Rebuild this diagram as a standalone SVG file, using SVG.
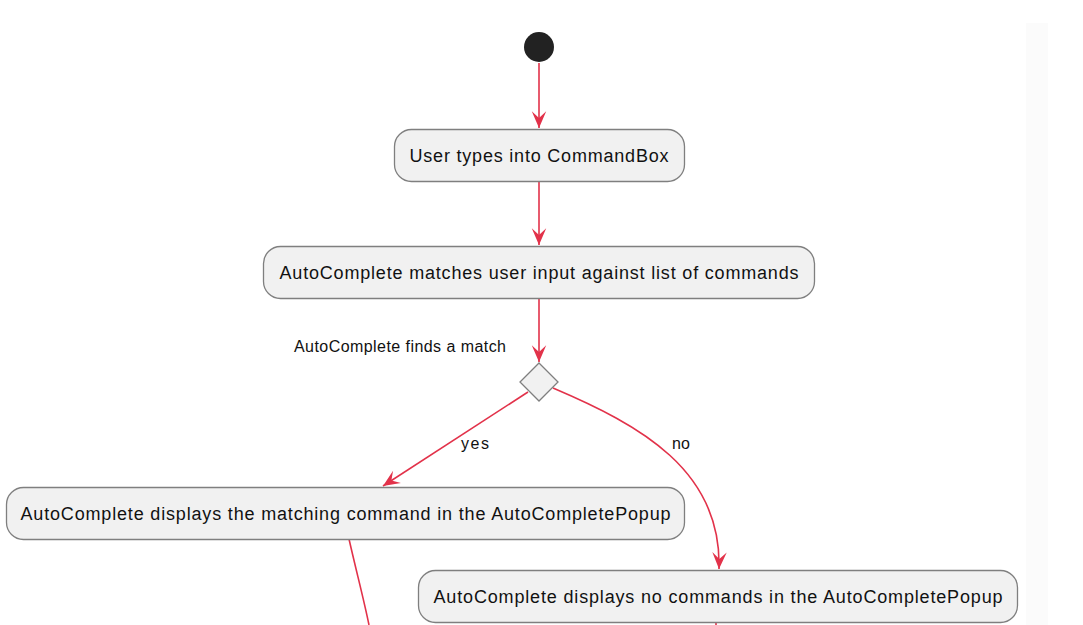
<svg xmlns="http://www.w3.org/2000/svg" width="1083" height="625" viewBox="0 0 1083 625">
  <style>
    .act { fill: #F1F1F1; stroke: #7F7F7F; stroke-width: 1.3; }
    .txt { font-family: "Liberation Sans", Arial, sans-serif; font-size: 18px; fill: #111; }
    .lbl { font-family: "Liberation Sans", Arial, sans-serif; font-size: 16px; fill: #111; }
    .edge { fill: none; stroke: #E2324A; stroke-width: 1.6; }
  </style>
  <defs>
    <marker id="arr" markerUnits="userSpaceOnUse" markerWidth="20" markerHeight="20" viewBox="-16 -8 18 16" refX="0" refY="0" orient="auto">
      <path d="M0,0 L-15,-6.5 L-9,0 L-15,6.5 Z" fill="#E2324A"/>
    </marker>
  </defs>
  <rect x="0" y="0" width="1083" height="625" fill="#FFFFFF"/>
  <rect x="1026" y="23" width="22" height="602" fill="#FBFBFB"/>

  <g id="connectors">
    <path class="edge" d="M539,63 L539,128" marker-end="url(#arr)"/>
    <path class="edge" d="M539,181 L539,245" marker-end="url(#arr)"/>
    <path class="edge" d="M539,298 L539,362" marker-end="url(#arr)"/>
    <path class="edge" d="M528,392 L383,486" marker-end="url(#arr)"/>
    <path class="edge" d="M553,388 C640,425 722,470 719,569" marker-end="url(#arr)"/>
    <path class="edge" d="M349,539 C356,570 364,600 369,625"/>
    <path class="edge" d="M716,623 L716,625"/>
    <text class="lbl" x="461" y="449" textLength="28" lengthAdjust="spacing">yes</text>
    <text class="lbl" x="672" y="449" textLength="18" lengthAdjust="spacing">no</text>
  </g>

  <g id="start">
    <circle cx="539" cy="47" r="15" fill="#222222"/>
  </g>

  <g id="n1">
    <rect class="act" x="394.5" y="129.5" width="290" height="52" rx="17" ry="17"/>
    <text class="txt" x="539" y="162" text-anchor="middle" textLength="259" lengthAdjust="spacing">User types into CommandBox</text>
  </g>

  <g id="n2">
    <rect class="act" x="263.5" y="246.5" width="551" height="52" rx="17" ry="17"/>
    <text class="txt" x="539" y="279" text-anchor="middle" textLength="519" lengthAdjust="spacing">AutoComplete matches user input against list of commands</text>
  </g>

  <g id="decision">
    <polygon class="act" points="539,363 558,382 539,401 520,382"/>
    <text class="lbl" x="294" y="352" textLength="212" lengthAdjust="spacing">AutoComplete finds a match</text>
  </g>

  <g id="n3">
    <rect class="act" x="6.5" y="487.5" width="678" height="52" rx="17" ry="17"/>
    <text class="txt" x="345.5" y="520" text-anchor="middle" textLength="650" lengthAdjust="spacing">AutoComplete displays the matching command in the AutoCompletePopup</text>
  </g>

  <g id="n4">
    <rect class="act" x="418.5" y="570.5" width="599" height="52" rx="17" ry="17"/>
    <text class="txt" x="718" y="603" text-anchor="middle" textLength="569" lengthAdjust="spacing">AutoComplete displays no commands in the AutoCompletePopup</text>
  </g>
</svg>
